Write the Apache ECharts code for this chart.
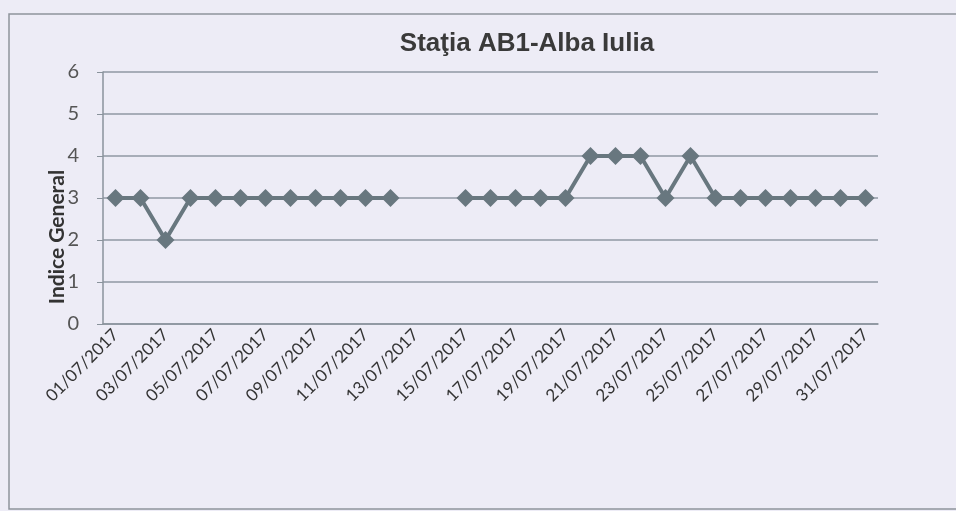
<!DOCTYPE html>
<html>
<head>
<meta charset="utf-8">
<script src="https://cdn.jsdelivr.net/npm/echarts@6/dist/echarts.min.js"></script>
<style>
  html, body { margin: 0; padding: 0; background: #edecf6; }
  #chart { width: 956px; height: 511px; }
</style>
</head>
<body>
<div id="chart"></div>
<script>
var days = [];
for (var d = 1; d <= 31; d++) {
    days.push((d < 10 ? '0' + d : '' + d) + '/07/2017');
}
// 13 and 14 July have no value
var indice = [3, 3, 2, 3, 3, 3, 3, 3, 3, 3, 3, 3, null, null,
              3, 3, 3, 3, 3, 4, 4, 4, 3, 4, 3, 3, 3, 3, 3, 3, 3];
var yTicks = [0, 1, 2, 3, 4, 5, 6];

var myChart = echarts.init(document.getElementById('chart'));

var option = {
    backgroundColor: '#edecf6',
    animation: false,
    title: {
        text: 'Staţia AB1-Alba Iulia',
        left: 522,
        textAlign: 'center',
        top: 26,
        textStyle: { fontFamily: 'Liberation Sans', fontWeight: 'bold', fontSize: 26, color: '#3a3a3a' }
    },
    graphic: [
        {
            type: 'rect',
            shape: { x: 9, y: 14, width: 960, height: 495 },
            style: { fill: 'none', stroke: '#8e949c', lineWidth: 1.5 },
            silent: true
        },
        {
            type: 'text',
            x: 57,
            y: 237,
            rotation: Math.PI / 2,
            style: {
                text: 'Indice General',
                fontFamily: 'Lato',
                fontWeight: 'bold',
                fontSize: 21,
                fill: '#333',
                align: 'center',
                verticalAlign: 'middle'
            }
        }
    ],
    grid: { left: 103, right: 78, top: 72, bottom: 187 },
    xAxis: {
        type: 'category',
        data: days,
        boundaryGap: true,
        axisLine: { lineStyle: { color: '#8a939c', width: 1.5 } },
        axisTick: { interval: 1, length: 6, lineStyle: { color: '#8a939c' } },
        axisLabel: {
            interval: 1,
            rotate: 45,
            margin: 8,
            fontFamily: 'Lato',
            fontSize: 17,
            color: '#333'
        }
    },
    yAxis: {
        type: 'value',
        min: yTicks[0],
        max: yTicks[yTicks.length - 1],
        interval: 1,
        axisLine: { show: true, lineStyle: { color: '#8a939c', width: 1.5 } },
        axisTick: { show: true, length: 6, lineStyle: { color: '#8a939c' } },
        axisLabel: { margin: 24, fontFamily: 'Lato', fontSize: 20, color: '#555' },
        splitLine: { lineStyle: { color: '#8f99a3', width: 1.5 } }
    },
    series: [{
        name: 'Indice General',
        type: 'line',
        data: indice,
        connectNulls: false,
        showAllSymbol: true,
        symbol: 'diamond',
        symbolSize: 18,
        lineStyle: { color: '#68777f', width: 4 },
        itemStyle: { color: '#68777f' }
    }]
};

myChart.setOption(option);
</script>
</body>
</html>
